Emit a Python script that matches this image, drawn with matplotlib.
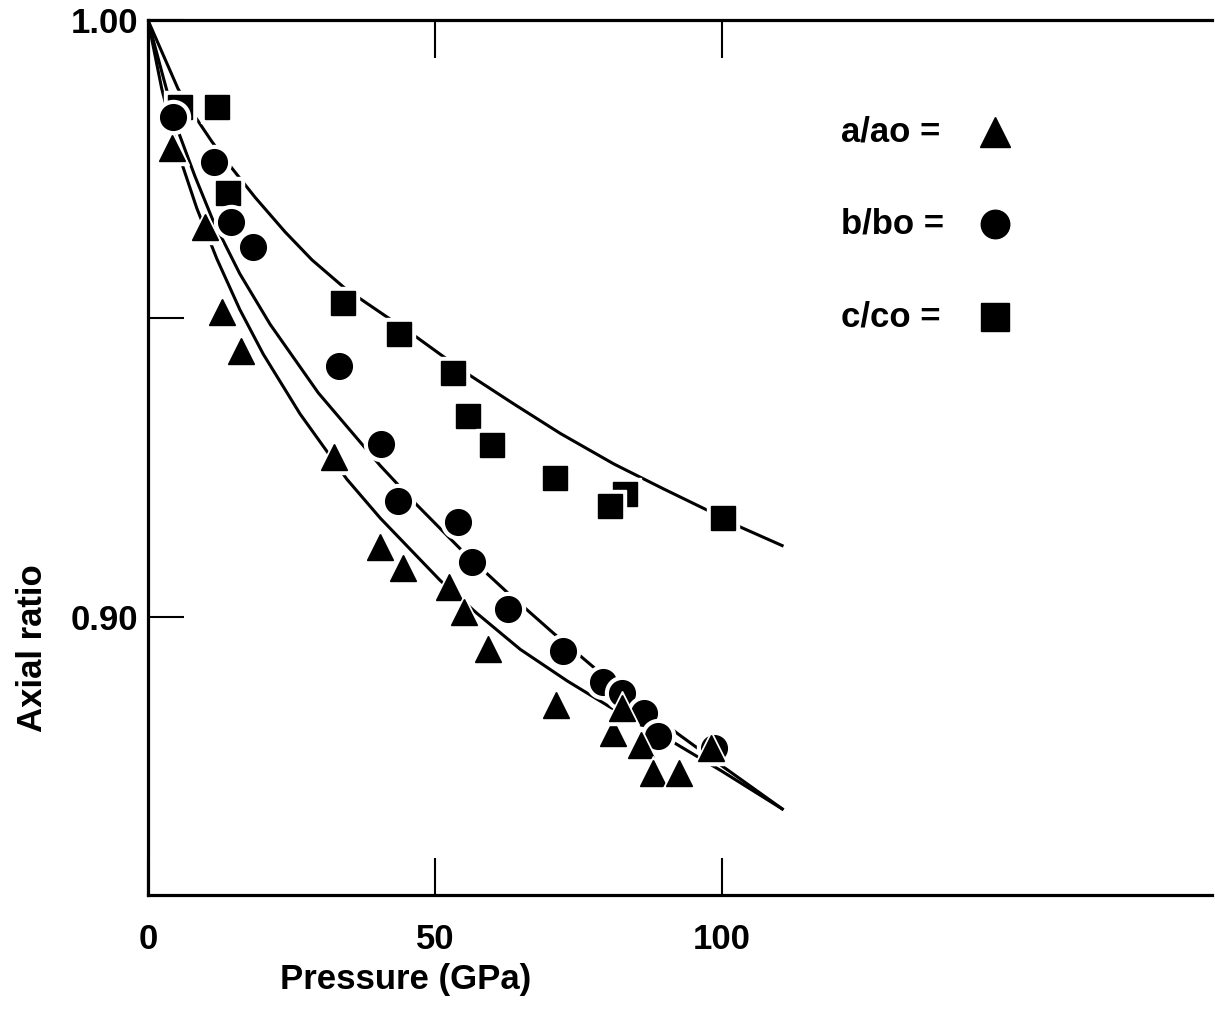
import numpy as np
import matplotlib.pyplot as plt

plt.rcParams['font.family'] = ['Liberation Sans', 'DejaVu Sans']
plt.rcParams['font.weight'] = 'bold'

# measured points (pressure in GPa, axial ratio)
p_a = [4.2, 9.9, 12.9, 16.2, 32.5, 40.5, 44.5, 52.5, 55.1, 59.3, 71.2, 81.0, 82.7, 86.0, 88.0, 92.5, 98.1]
r_a = [0.9785, 0.9654, 0.9511, 0.9445, 0.9267, 0.9116, 0.9081, 0.9049, 0.9007, 0.8945, 0.8852, 0.8805, 0.8847, 0.8785, 0.8738, 0.8738, 0.8780]

p_b = [4.4, 11.5, 14.5, 18.3, 33.3, 40.7, 43.6, 54.1, 56.5, 62.7, 72.4, 79.4, 82.7, 86.4, 89.0, 98.6]
r_b = [0.9837, 0.9763, 0.9661, 0.9620, 0.9420, 0.9289, 0.9193, 0.9158, 0.9092, 0.9012, 0.8943, 0.8891, 0.8872, 0.8839, 0.8800, 0.8780]

p_c = [5.6, 12.0, 14.0, 34.0, 43.8, 53.1, 55.8, 60.0, 70.9, 83.2, 80.6, 100.2]
r_c = [0.9855, 0.9855, 0.9711, 0.9526, 0.9474, 0.9408, 0.9336, 0.9287, 0.9232, 0.9205, 0.9185, 0.9166]

# fitted curves
fit_a_p = [0, 2.4, 5.2, 8.5, 12.0, 16.0, 20.1, 26.5, 34.7, 40.5, 51.0, 57.4, 64.9, 73.1, 80.6, 91.1, 100.0, 110.8]
fit_a_r = [1.0, 0.9885, 0.9780, 0.9685, 0.9600, 0.9515, 0.9440, 0.9340, 0.9230, 0.9165, 0.9060, 0.9005,
           0.8945, 0.8892, 0.8848, 0.8792, 0.8741, 0.8676]

fit_b_p = [0, 2.5, 5.1, 8.2, 11.3, 16.0, 21.3, 29.7, 40.5, 46.9, 54.5, 62.7, 70.7, 77.7, 85.0, 92.3, 100.0, 110.8]
fit_b_r = [1.0, 0.9910, 0.9818, 0.9738, 0.9665, 0.9575, 0.9490, 0.9375, 0.9253, 0.9187, 0.9113, 0.9040,
           0.8972, 0.8915, 0.8858, 0.8804, 0.8750, 0.8676]

fit_c_p = [0, 5.24, 6.98, 11.17, 13.96, 18.67, 23.9, 28.6, 34.4, 46.9, 51.5, 56.2, 63.7, 71.9, 81.2, 89.9, 97.6, 103.3, 110.8]
fit_c_r = [1.0, 0.9885, 0.9856, 0.9796, 0.9760, 0.9703, 0.9645, 0.9598, 0.9550, 0.9468, 0.9436, 0.9404,
           0.9357, 0.9307, 0.9256, 0.9214, 0.9178, 0.9150, 0.9118]

legend_labels = ['a/ao =', 'b/bo =', 'c/co =']
legend_y = [0.9813, 0.9659, 0.9503]

fig = plt.figure(figsize=(12.15, 10.11), dpi=100)
ax = fig.add_axes([0.1218, 0.1147, 0.8757, 0.8653])

for fp, fr in [(fit_a_p, fit_a_r), (fit_b_p, fit_b_r), (fit_c_p, fit_c_r)]:
    ax.plot(fp, fr, color='black', lw=2.2, zorder=2, solid_capstyle='butt', solid_joinstyle='round')

series = [(p_a, r_a, '^', 19), (p_b, r_b, 'o', 18.5), (p_c, r_c, 's', 17.5)]
# white halos break the curves around the symbols; squares first, triangles on top
z = 3
for px, ry, m, ms in series[::-1]:
    for x, y in zip(px, ry):
        ax.plot([x], [y], ls='none', marker=m, ms=ms + 6, color='white', zorder=z)
        ax.plot([x], [y], ls='none', marker=m, ms=ms, color='black', zorder=z + 1)
        z += 2

# key drawn as text + symbol
for lab, ly, (px, ry, m, ms) in zip(legend_labels, legend_y, series):
    ax.text(120.8, ly, lab, fontsize=25, fontweight='bold', va='center', ha='left')
    ax.plot([147.6], [ly], ls='none', marker=m, ms=ms + 2, color='black')

ax.set_xlim(0, 185.5)
ax.set_ylim(0.8533, 1.0)

ax.set_xticks([0, 50, 100])
ax.set_xticklabels(['0', '50', '100'])
ax.set_yticks([0.90, 0.95, 1.00])
ax.set_yticklabels(['0.90', '', '1.00'])
ax.tick_params(axis='x', direction='in', length=27, width=1.5, top=True, pad=20, labelsize=25)
ax.tick_params(axis='y', direction='in', length=26, width=1.5, pad=7, labelsize=25)

for side in ['left', 'bottom', 'top']:
    ax.spines[side].set_linewidth(2.3)
ax.spines['right'].set_visible(False)

fig.text(0.334, 0.031, 'Pressure (GPa)', fontsize=25, fontweight='bold', ha='center', va='center')
fig.text(0.027, 0.359, 'Axial ratio', fontsize=25, fontweight='bold', ha='center', va='center', rotation=90)

fig.savefig('out.png', dpi=100)
